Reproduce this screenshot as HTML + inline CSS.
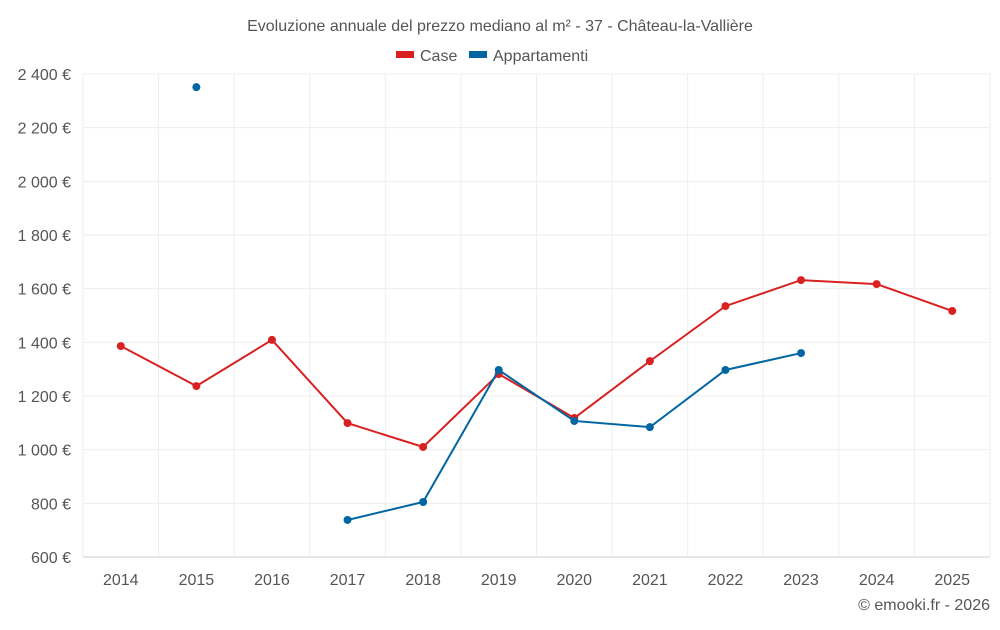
<!DOCTYPE html>
<html><head><meta charset="utf-8"><style>
body{margin:0;background:#fff;font-family:"Liberation Sans",sans-serif;}
svg text{font-family:"Liberation Sans",sans-serif;}
</style></head><body>
<svg id="chart" width="1000" height="625">
<text x="500" y="31" text-anchor="middle" font-size="16" fill="#555">Evoluzione annuale del prezzo mediano al m² - 37 - Château-la-Vallière</text>
<g>
<g><rect x="396" y="51" width="18" height="7" fill="#d92121"/><text x="420" y="61" font-size="16" fill="#555">Case</text></g>
<g><rect x="469" y="51" width="18" height="7" fill="#0066a1"/><text x="493" y="61" font-size="16" fill="#555">Appartamenti</text></g>
</g>
<g id="grid"></g><g id="axes"></g><g id="series"></g>
<text x="990" y="610" text-anchor="end" font-size="16" fill="#555">© emooki.fr - 2026</text>
</svg>
<script>
const years=[2014,2015,2016,2017,2018,2019,2020,2021,2022,2023,2024,2025];
const caseVals=[1386,1237,1409,1099,1010,1282,1118,1330,1535,1632,1617,1517];
const apptVals=[null,2351,null,738,805,1297,1107,1084,1297,1360,null,null];
const yTicks=[600,800,1000,1200,1400,1600,1800,2000,2200,2400];
const L=83,R=990,T=74,B=557,ymin=600,ymax=2400;
const bw=(R-L)/years.length;
const xs=i=>L+bw*(i+0.5);
const ys=v=>B-(v-ymin)/(ymax-ymin)*(B-T);
const NS="http://www.w3.org/2000/svg";
function mk(tag,attrs,parent){const e=document.createElementNS(NS,tag);for(const k in attrs)e.setAttribute(k,attrs[k]);parent.appendChild(e);return e;}
const grid=document.getElementById('grid'),axes=document.getElementById('axes'),ser=document.getElementById('series');
const fmt=v=>{const s=String(v);return (s.length>3?s.slice(0,-3)+' '+s.slice(-3):s)+' €';};
yTicks.forEach(v=>{
 const l=mk('line',{x1:L,x2:R,y1:ys(v),y2:ys(v),stroke:v===ymin?'#ccc':'#eee'},grid);
 
 
 const t=mk('text',{x:L-12,y:ys(v)+6,'text-anchor':'end','font-size':16,fill:'#555'},axes);
 t.textContent=fmt(v);
 
 
});
for(let i=0;i<=years.length;i++){
 const l=mk('line',{x1:L+bw*i,x2:L+bw*i,y1:T,y2:B,stroke:'#eee'},grid);
 
 
}
years.forEach((y,i)=>{
 const t=mk('text',{x:xs(i),y:585,'text-anchor':'middle','font-size':16,fill:'#555'},axes);
 t.textContent=y;
 
 
});
function draw(vals,color,name){
 let d='',pen=false;
 vals.forEach((v,i)=>{if(v==null){pen=false;return;}d+=(pen?'L':'M')+xs(i)+','+ys(v);pen=true;});
 const p=mk('path',{d:d,fill:'none',stroke:color,'stroke-width':2},ser);
 
 
 vals.forEach((v,i)=>{if(v==null)return;
  const c=mk('circle',{cx:xs(i),cy:ys(v),r:4,fill:color},ser);
  
  
 });
}
draw(caseVals,'#d92121','case');
draw(apptVals,'#0066a1','appartamenti');
</script>
</body></html>
